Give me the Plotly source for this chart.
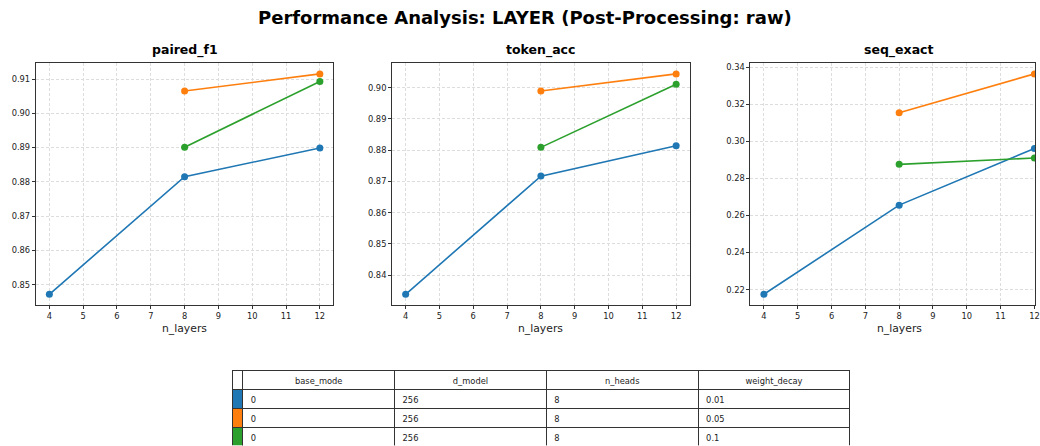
import plotly.graph_objects as go

# ---- data ----
n_layers_blue = [4, 8, 12]
n_layers_other = [8, 12]

paired_f1_blue = [0.8472, 0.8815, 0.8899]
paired_f1_orange = [0.9065, 0.9115]
paired_f1_green = [0.8901, 0.9093]

token_acc_blue = [0.8339, 0.8717, 0.8814]
token_acc_orange = [0.8989, 0.9044]
token_acc_green = [0.8809, 0.9011]

seq_exact_blue = [0.2175, 0.2656, 0.2962]
seq_exact_orange = [0.3154, 0.3364]
seq_exact_green = [0.2876, 0.2910]

metrics = ["paired_f1", "token_acc", "seq_exact"]
y_dticks = [0.01, 0.01, 0.02]

table_header = ["", "base_mode", "d_model", "n_heads", "weight_decay"]
base_mode = ["0", "0", "0"]
d_model = ["256", "256", "256"]
n_heads = ["8", "8", "8"]
weight_decay = ["0.01", "0.05", "0.1"]

colors = ["#1f77b4", "#ff7f0e", "#2ca02c"]

series = {
    "paired_f1": [paired_f1_blue, paired_f1_orange, paired_f1_green],
    "token_acc": [token_acc_blue, token_acc_orange, token_acc_green],
    "seq_exact": [seq_exact_blue, seq_exact_orange, seq_exact_green],
}

W, H = 1040, 446
FONT = "DejaVu Sans"

fig = go.Figure()

# axis geometry (pixels)
ax_left = [36, 394, 754]
ax_w = 299
y_top, y_bot = 62, 305

xmin, xmax = 4, 12
xspan = xmax - xmin
xr = [xmin - 0.05 * xspan, xmax + 0.05 * xspan]

layout_axes = {}
for i, m in enumerate(metrics):
    idx = "" if i == 0 else str(i + 1)
    xs = [n_layers_blue, n_layers_other, n_layers_other]
    for s, (xv, yv) in enumerate(zip(xs, series[m])):
        fig.add_trace(go.Scatter(
            x=xv, y=yv, mode="lines+markers",
            line=dict(color=colors[s], width=1.6),
            marker=dict(color=colors[s], size=7),
            xaxis="x" + idx, yaxis="y" + idx, showlegend=False,
        ))
    allv = [v for arr in series[m] for v in arr]
    lo, hi = min(allv), max(allv)
    sp = hi - lo
    yr = [lo - 0.05 * sp, hi + 0.05 * sp]

    d0 = ax_left[i] / W
    d1 = (ax_left[i] + ax_w) / W
    this_xr = list(xr)
    if d1 > 1:
        frac = (1 - d0) / (d1 - d0)
        this_xr = [xr[0], xr[0] + (xr[1] - xr[0]) * frac]
        d1 = 1.0

    common = dict(
        showline=True, linecolor="#333333", linewidth=1, mirror=True,
        ticks="outside", ticklen=3, tickcolor="#333333", tickwidth=1,
        showgrid=True, gridcolor="#dddddd", gridwidth=0.8, griddash="3px,2px",
        zeroline=False, tickfont=dict(family=FONT, size=8.3, color="#222222"),
        ticklabeloverflow="allow",
    )
    layout_axes["xaxis" + idx] = dict(
        domain=[d0, d1], range=this_xr, dtick=1, tick0=0,
        anchor="y" + idx, **common)
    layout_axes["yaxis" + idx] = dict(
        domain=[1 - y_bot / H, 1 - y_top / H], range=yr, dtick=y_dticks[i],
        tickformat=".2f", anchor="x" + idx, **common)

annotations = [
    dict(text="<b>Performance Analysis: LAYER (Post-Processing: raw)</b>",
         x=528 / W, y=1 - 17 / H, xref="paper", yref="paper",
         xanchor="center", yanchor="middle", showarrow=False,
         font=dict(family=FONT, size=18, color="black")),
]
for i, m in enumerate(metrics):
    cx = (ax_left[i] + ax_w / 2) / W
    annotations.append(dict(text="<b>" + m + "</b>", x=cx, y=1 - 49 / H,
                            xref="paper", yref="paper", xanchor="center",
                            yanchor="middle", showarrow=False,
                            font=dict(family=FONT, size=12.5, color="black")))
    annotations.append(dict(text="n_layers", x=cx, y=1 - 328 / H,
                            xref="paper", yref="paper", xanchor="center",
                            yanchor="middle", showarrow=False,
                            font=dict(family=FONT, size=10.8, color="#222222")))

# table
tbl_left, tbl_right, tbl_top = 234, 854, 370
fig.add_trace(go.Table(
    domain=dict(x=[tbl_left / W, tbl_right / W], y=[0, 1 - tbl_top / H]),
    columnwidth=[10, 152.5, 152.5, 152.5, 152.5],
    header=dict(values=table_header, align="center", height=19,
                fill_color="white", line=dict(color="#333333", width=1),
                font=dict(family=FONT, size=8.3, color="#222222")),
    cells=dict(values=[["", "", ""], base_mode, d_model, n_heads, weight_decay],
               align="left", height=19,
               fill_color=[colors, "white", "white", "white", "white"],
               line=dict(color="#333333", width=1),
               font=dict(family=FONT, size=8.3, color="#222222")),
))

fig.update_layout(
    width=W, height=H, margin=dict(l=0, r=0, t=0, b=0),
    paper_bgcolor="white", plot_bgcolor="white",
    annotations=annotations, font=dict(family=FONT),
    **layout_axes,
)

fig.write_html(
    "out.html",
    config={"displayModeBar": False},
    post_script="document.body.style.margin='0';document.body.style.overflow='hidden';",
)
